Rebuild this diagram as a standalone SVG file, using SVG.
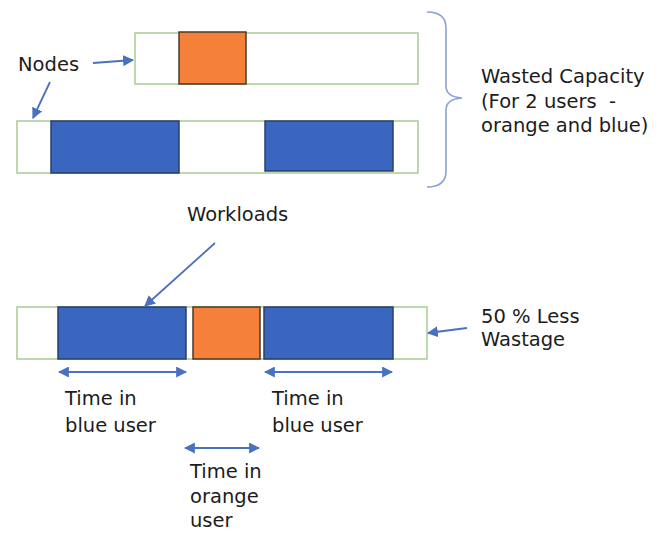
<svg xmlns="http://www.w3.org/2000/svg" width="662" height="533" viewBox="0 0 662 533">
<defs>
<marker id="ah" viewBox="0 0 10 10" refX="9" refY="5" markerWidth="11" markerHeight="11" markerUnits="userSpaceOnUse" orient="auto-start-reverse">
<path d="M0,0 L10,5 L0,10 z" fill="#4a70c0"/>
</marker>
<style>
.node{fill:#fff;stroke:#a8cc92;stroke-width:1.5}
.blue{fill:#3b66c0;stroke:#2a3f6a;stroke-width:1.5}
.orange{fill:#f5803a;stroke:#4a3a2a;stroke-width:1.5}
.arr{stroke:#4a70c0;stroke-width:1.8;fill:none}
.brace{stroke:#8da2d0;stroke-width:1.6;fill:none}
text{font-family:"DejaVu Sans","Liberation Sans",sans-serif;font-size:19.5px;fill:#1c1c1c;white-space:pre}
</style>
</defs>
<rect width="662" height="533" fill="#fff"/>
<g id="node-top">
<rect class="node" x="135" y="33" width="283" height="51"/>
<rect class="orange" x="179" y="32" width="67" height="52"/>
</g>
<g id="node-mid">
<rect class="node" x="17" y="121" width="401" height="52"/>
<rect class="blue" x="51" y="121" width="128" height="52"/>
<rect class="blue" x="265" y="121" width="128" height="50"/>
</g>
<g id="node-bottom">
<rect class="node" x="17" y="307" width="410" height="52"/>
<rect class="blue" x="58" y="307" width="128" height="52"/>
<rect class="orange" x="193" y="307" width="67" height="52"/>
<rect class="blue" x="264" y="307" width="129" height="52"/>
</g>
<g id="brace">
<path class="brace" d="M427,12 Q446,12 446,28 L446,86 Q446,97 462,98 Q446,99 446,110 L446,171 Q446,187 427,187"/>
</g>
<g id="connectors">
<line class="arr" x1="93" y1="63" x2="133" y2="60" marker-end="url(#ah)"/>
<line class="arr" x1="50" y1="82" x2="33" y2="118" marker-end="url(#ah)"/>
<line class="arr" x1="215" y1="243" x2="145" y2="306" marker-end="url(#ah)"/>
<line class="arr" x1="467" y1="328" x2="428" y2="333" marker-end="url(#ah)"/>
<line class="arr" x1="59" y1="372" x2="186" y2="372" marker-start="url(#ah)" marker-end="url(#ah)"/>
<line class="arr" x1="265" y1="372" x2="392" y2="372" marker-start="url(#ah)" marker-end="url(#ah)"/>
<line class="arr" x1="185" y1="448" x2="259" y2="448" marker-start="url(#ah)" marker-end="url(#ah)"/>
</g>
<g id="labels">
<text x="18" y="71">Nodes</text>
<text x="481" y="83">Wasted Capacity</text>
<text x="481" y="108">(For 2 users  -</text>
<text x="481" y="132">orange and blue)</text>
<text x="187" y="221">Workloads</text>
<text x="481" y="323">50 % Less</text>
<text x="481" y="346">Wastage</text>
<text x="65" y="405">Time in</text>
<text x="65" y="432">blue user</text>
<text x="272" y="405">Time in</text>
<text x="272" y="432">blue user</text>
<text x="190" y="478">Time in</text>
<text x="190" y="503">orange</text>
<text x="190" y="527">user</text>
</g>
</svg>
